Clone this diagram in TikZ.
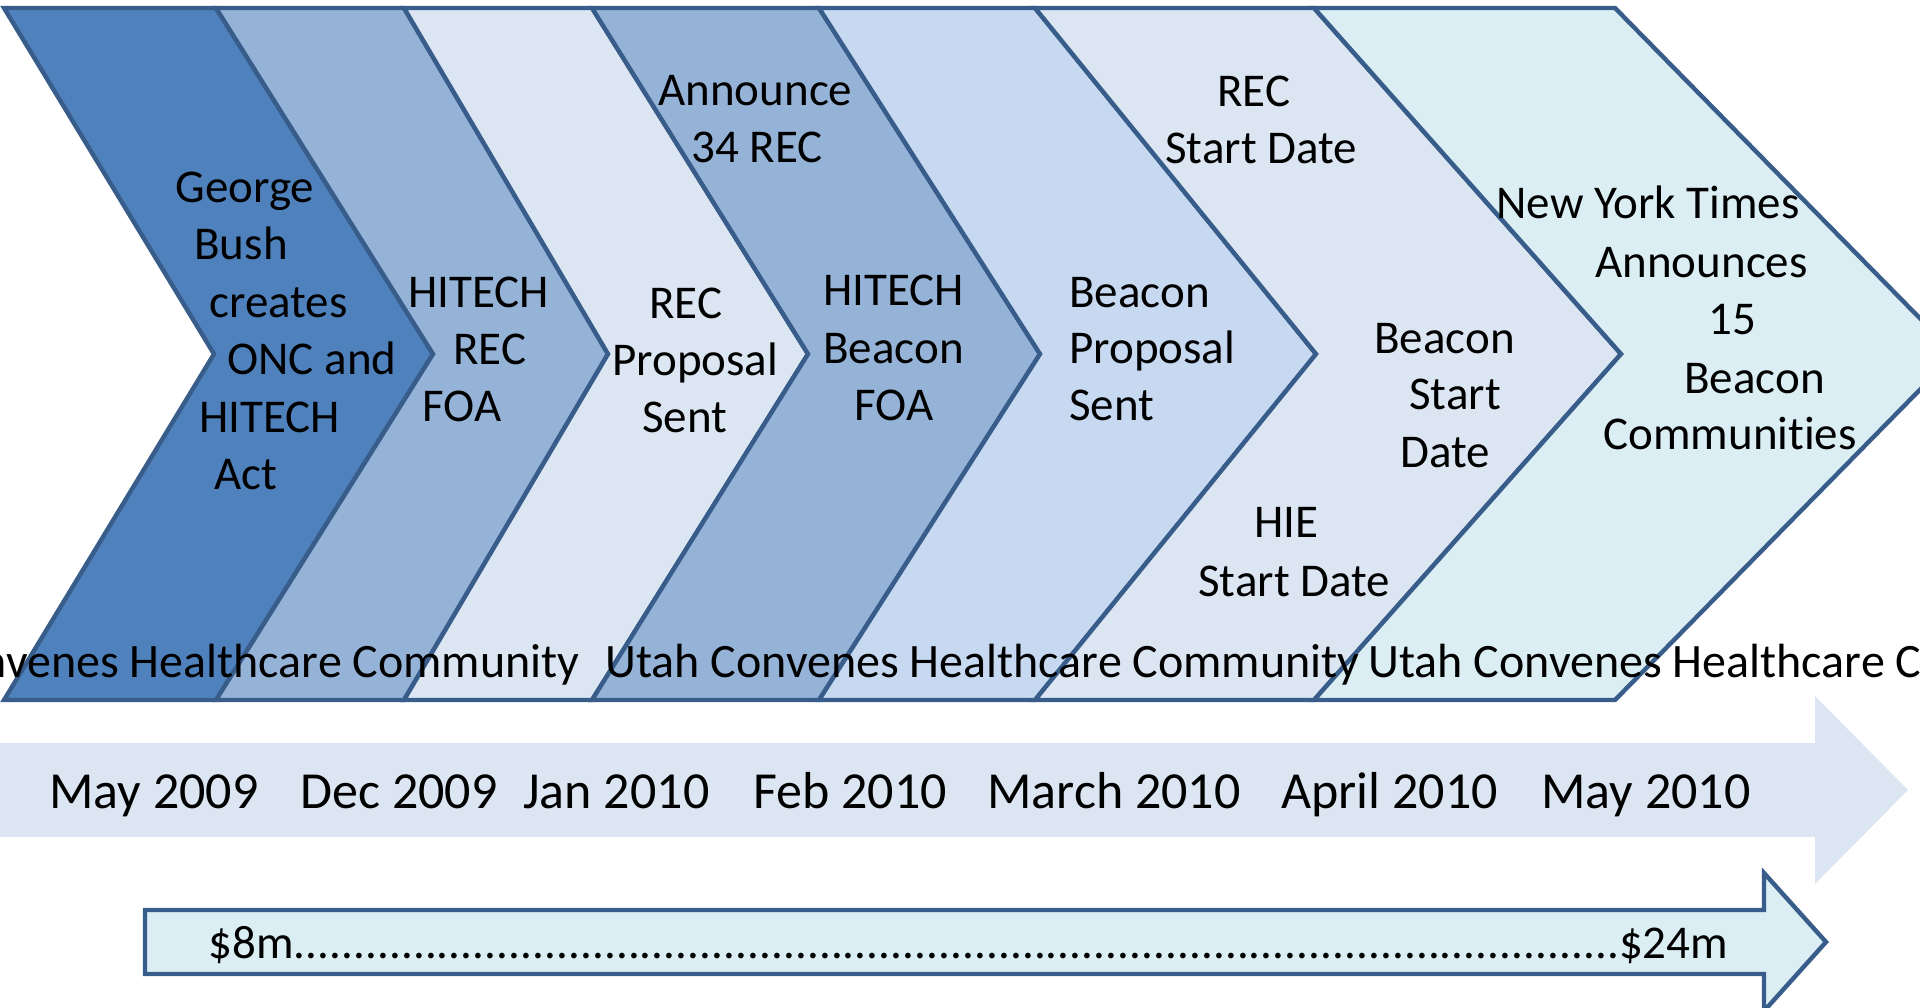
\documentclass[tikz,border=0pt]{standalone}
\usepackage{fontspec}
\setmainfont{Carlito}[Ligatures=NoCommon]
\definecolor{edgeblue}{HTML}{385D8A}
\definecolor{chevdark}{HTML}{4F81BD}
\definecolor{chevmid}{HTML}{95B3D7}
\definecolor{chevpale}{HTML}{DCE6F2}
\definecolor{chevsky}{HTML}{C6D9F1}
\definecolor{chevaqua}{HTML}{DAEEF3}

\begin{document}
\begin{tikzpicture}[x=0.5pt,y=-0.5pt,
    chev/.style={draw=edgeblue,line width=2.2pt,line join=miter},
    lbl/.style={anchor=base west,inner sep=0pt,font=\fontsize{23.5}{28}\selectfont},
    datelbl/.style={anchor=base west,inner sep=0pt,font=\fontsize{26}{31}\selectfont}]
  \useasboundingbox (0,0) rectangle (1920,1007);
  \clip (0,0) rectangle (1920,1007);

  % chevrons
  \draw[chev,fill=chevdark] (4,8) -- (216,8) -- (433,354) -- (216,700) -- (4,700) -- (214,354) -- cycle;
  \draw[chev,fill=chevmid] (216,8) -- (404,8) -- (608,354) -- (404,700) -- (216,700) -- (433,354) -- cycle;
  \draw[chev,fill=chevpale] (404,8) -- (592,8) -- (808,354) -- (592,700) -- (404,700) -- (608,354) -- cycle;
  \draw[chev,fill=chevmid] (592,8) -- (819,8) -- (1040,354) -- (819,700) -- (592,700) -- (808,354) -- cycle;
  \draw[chev,fill=chevsky] (819,8) -- (1035,8) -- (1316,354) -- (1035,700) -- (819,700) -- (1040,354) -- cycle;
  \draw[chev,fill=chevpale] (1035,8) -- (1314,8) -- (1621,354) -- (1314,700) -- (1035,700) -- (1316,354) -- cycle;
  \draw[chev,fill=chevaqua] (1314,8) -- (1615,8) -- (1955,354) -- (1615,700) -- (1314,700) -- (1621,354) -- cycle;

  % time line and funding arrow
  \fill[chevpale] (0,743) -- (1815,743) -- (1815,696) -- (1908,790) -- (1815,884) -- (1815,837) -- (0,837) -- cycle;
  \draw[chev,fill=chevaqua] (145,910) -- (1764,910) -- (1764,873) -- (1826,942) -- (1764,1011) -- (1764,974) -- (145,974) -- cycle;

  \begin{scope}[every node/.style={lbl}]
    \node (bush1) at (175,202) {George};
    \node (bush2) at (194,259) {Bush};
    \node (bush3) at (209,317) {creates};
    \node (bush4) at (227,374) {ONC and};
    \node (bush5) at (199,432) {HITECH};
    \node (bush6) at (214,489) {Act};

    \node (recfoa1) at (408,307) {HITECH};
    \node (recfoa2) at (453,364) {REC};
    \node (recfoa3) at (422,421) {FOA};

    \node (recsent1) at (649,318) {REC};
    \node (recsent2) at (612,375) {Proposal};
    \node (recsent3) at (642,432) {Sent};

    \node (announce1) at (658,105) {Announce};
    \node (announce2) at (691,162) {34 REC};
    \node (bcnfoa1) at (823,305) {HITECH};
    \node (bcnfoa2) at (823,363) {Beacon};
    \node (bcnfoa3) at (854,420) {FOA};

    \node (bcnsent1) at (1069,307) {Beacon};
    \node (bcnsent2) at (1069,363) {Proposal};
    \node (bcnsent3) at (1069,420) {Sent};

    \node (recstart1) at (1217,106) {REC};
    \node (recstart2) at (1165,163) {Start Date};
    \node (hiestart1) at (1254,537) {HIE};
    \node (hiestart2) at (1198,596) {Start Date};
    \node (bcnstart1) at (1374,353) {Beacon};
    \node (bcnstart2) at (1409,409) {Start};
    \node (bcnstart3) at (1400,467) {Date};

    \node (nyt1) at (1496,218) {New York Times};
    \node (nyt2) at (1595,277) {Announces};
    \node (nyt3) at (1708,334) {15};
    \node (nyt4) at (1684,393) {Beacon};
    \node (nyt5) at (1603,449) {Communities};

    \node[anchor=base east,font=\fontsize{24}{28}\selectfont] (utah1) at (580,677) {Utah Convenes Healthcare Community};
    \node[font=\fontsize{24}{28}\selectfont] (utah2) at (605,677) {Utah Convenes Healthcare Community};
    \node[font=\fontsize{24}{28}\selectfont] (utah3) at (1368,677) {Utah Convenes Healthcare Community};

    \node (fund) at (208,958) {\hbox to 761pt{\$8m\xleaders\hbox{.}\hfill\$24m}};
  \end{scope}

  \begin{scope}[every node/.style={datelbl}]
    \node (may09) at (49,808) {May 2009};
    \node (dec09) at (300,808) {Dec 2009};
    \node (jan10) at (523,808) {Jan 2010};
    \node (feb10) at (753,808) {Feb 2010};
    \node (mar10) at (987,808) {March 2010};
    \node (apr10) at (1281,808) {April 2010};
    \node (may10) at (1541,808) {May 2010};
  \end{scope}
\end{tikzpicture}
\end{document}
